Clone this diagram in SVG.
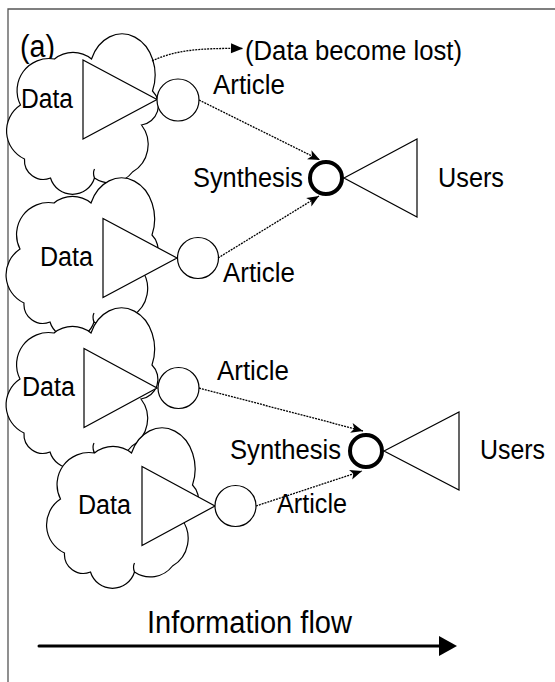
<svg xmlns="http://www.w3.org/2000/svg" width="555" height="682" viewBox="0 0 555 682">
<style>
text{font-family:"Liberation Sans",Arial,Helvetica,sans-serif;fill:#000}
.lbl{font-size:27px}
.shape{fill:#fff;stroke:#000;stroke-width:1.2;stroke-linejoin:miter}
.tick{fill:none;stroke:#000;stroke-width:1.2}
.link{fill:none;stroke:#000;stroke-width:1.3;stroke-dasharray:2 1}
.synth{fill:#fff;stroke:#000;stroke-width:4}
.frame{fill:none;stroke:#555;stroke-width:1.3}
</style>
<defs>
  <!-- puffy cloud outline, local box about 150 x 160 -->
  <g id="cloud">
    <path class="shape" d="M14,72 A32,32 0 0 1 48,26 A29,29 0 0 1 85,26 A33,41 0 1 1 146,58 A20,20 0 0 1 135,92 A32,32 0 0 1 126,139 A28,28 0 0 1 88,145 A23,23 0 0 1 44,145 A19,19 0 0 1 18,126 A31,31 0 0 1 14,72 Z"/>
    <path class="tick" d="M88,145 q-2,-5 0,-9"/>
  </g>
  <marker id="stealth" markerUnits="userSpaceOnUse" markerWidth="14" markerHeight="12" refX="12" refY="6" orient="auto" overflow="visible">
    <path d="M0,1 L12,6 L0,11 L3,6 Z" fill="#000"/>
  </marker>
  <marker id="tri" markerUnits="userSpaceOnUse" markerWidth="14" markerHeight="12" refX="12" refY="6" orient="auto" overflow="visible">
    <path d="M0,1 L12,6 L0,11 Z" fill="#000"/>
  </marker>
</defs>

<!-- frame edges -->
<path class="frame" d="M8,682 V9 H555"/>
<text x="20" y="57" style="font-size:31px" textLength="35" lengthAdjust="spacingAndGlyphs">(a)</text>

<!-- sources: data clouds with their output triangles -->
<g id="data1">
  <use href="#cloud" x="6.5" y="33"/>
  <polygon class="shape" points="83,60 83,139 157,99.5"/>
  <text class="lbl" x="21" y="108" textLength="52" lengthAdjust="spacingAndGlyphs">Data</text>
</g>
<g id="data2">
  <use href="#cloud" x="6" y="177"/>
  <polygon class="shape" points="103,218.5 103,297.5 177,258"/>
  <text class="lbl" x="40" y="266" textLength="53" lengthAdjust="spacingAndGlyphs">Data</text>
</g>
<g id="data3">
  <use href="#cloud" x="6" y="307"/>
  <polygon class="shape" points="84,348.5 84,427.5 157,388"/>
  <text class="lbl" x="22" y="396" textLength="53" lengthAdjust="spacingAndGlyphs">Data</text>
</g>
<g id="data4">
  <use href="#cloud" x="46.5" y="427"/>
  <polygon class="shape" points="142,466.5 142,545.5 215,506"/>
  <text class="lbl" x="78" y="514" textLength="53" lengthAdjust="spacingAndGlyphs">Data</text>
</g>

<!-- articles -->
<g id="article1">
  <circle class="shape" cx="178" cy="100" r="21"/>
  <text class="lbl" x="213" y="94" textLength="72" lengthAdjust="spacingAndGlyphs">Article</text>
</g>
<g id="article2">
  <circle class="shape" cx="198" cy="258" r="20.5"/>
  <text class="lbl" x="223" y="282" textLength="72" lengthAdjust="spacingAndGlyphs">Article</text>
</g>
<g id="article3">
  <circle class="shape" cx="178.5" cy="388" r="20.5"/>
  <text class="lbl" x="217" y="380" textLength="72" lengthAdjust="spacingAndGlyphs">Article</text>
</g>
<g id="article4">
  <circle class="shape" cx="235.5" cy="506" r="20.5"/>
  <text class="lbl" x="277" y="513" textLength="70" lengthAdjust="spacingAndGlyphs">Article</text>
</g>

<!-- syntheses and their users -->
<g id="synthesis1">
  <circle class="synth" cx="326" cy="178" r="16"/>
  <text class="lbl" x="193" y="187" textLength="110" lengthAdjust="spacingAndGlyphs">Synthesis</text>
</g>
<g id="users1">
  <polygon class="shape" points="344,178 417,139 417,217" style="fill:none"/>
  <text class="lbl" x="438" y="187" textLength="66" lengthAdjust="spacingAndGlyphs">Users</text>
</g>
<g id="synthesis2">
  <circle class="synth" cx="366" cy="451" r="16"/>
  <text class="lbl" x="230" y="459" textLength="111" lengthAdjust="spacingAndGlyphs">Synthesis</text>
</g>
<g id="users2">
  <polygon class="shape" points="384,451 459,412 459,490" style="fill:none"/>
  <text class="lbl" x="480" y="459" textLength="65" lengthAdjust="spacingAndGlyphs">Users</text>
</g>

<g id="lost">
  <text class="lbl" x="245" y="60" textLength="217" lengthAdjust="spacingAndGlyphs">(Data become lost)</text>
</g>

<!-- connectors -->
<g id="connectors">
  <path class="link" d="M152,61 C175,50 200,48 243,48.5" marker-end="url(#tri)"/>
  <path class="link" d="M199,100 L320,160" marker-end="url(#stealth)"/>
  <path class="link" d="M218,258 L319,196" marker-end="url(#stealth)"/>
  <path class="link" d="M199,388 L363,431" marker-end="url(#stealth)"/>
  <path class="link" d="M256,506 L362,471" marker-end="url(#stealth)"/>
</g>

<!-- direction of flow -->
<g id="flow">
  <text x="147" y="633" style="font-size:31px" textLength="205" lengthAdjust="spacingAndGlyphs">Information flow</text>
  <line x1="39" y1="646" x2="441" y2="646" stroke="#000" stroke-width="3" stroke-linecap="round"/>
  <polygon points="439,636 457,646 439,656" fill="#000"/>
</g>
</svg>
